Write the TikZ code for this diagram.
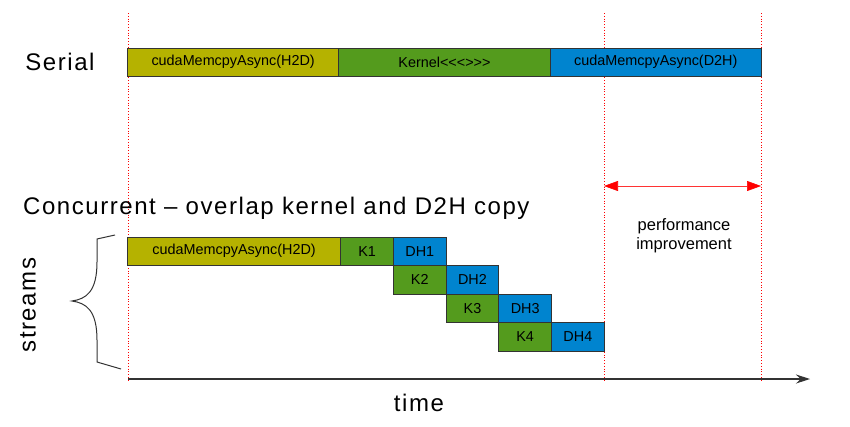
\documentclass[tikz,border=0pt]{standalone}
\usepackage{fontspec}
\newfontfamily\cellfont{Liberation Sans}
\newfontfamily\headfont{Liberation Sans}[LetterSpace=6.5]
\usetikzlibrary{arrows.meta,positioning}

\definecolor{copyin}{RGB}{181,178,0}
\definecolor{kernel}{RGB}{84,155,29}
\definecolor{copyout}{RGB}{0,132,207}
\definecolor{edge}{RGB}{51,51,51}

\tikzset{
	cell/.style={draw=edge, line width=1pt, inner sep=0pt, outer sep=0pt,
		minimum height=28.5pt, font=\cellfont\fontsize{14.4}{16}\selectfont},
	longcell/.style={cell, minimum width=211.3pt},
	shortcell/.style={cell, minimum width=52.7pt},
	heading/.style={inner sep=0pt, font=\headfont\fontsize{24}{28}\selectfont},
	marker/.style={red, dotted, line width=0.8pt},
}

\begin{document}
\begin{tikzpicture}[x=1pt,y=-1pt]

\path [use as bounding box] (0,0) rectangle (850,426);

% MARKERS
\foreach \x in {128,604,761}
	\draw [marker] (\x,13) -- (\x,380);

% SERIAL
\node [heading] (serial) at (60,62) {Serial};
\node [longcell, fill=copyin, anchor=north west] (sh2d) at (127.5,48) {cudaMemcpyAsync(H2D)};
\node [longcell, fill=kernel, right=0pt of sh2d] (skern) {Kernel<<<>>>};
\node [longcell, fill=copyout, right=0pt of skern] (sd2h) {cudaMemcpyAsync(D2H)};

% CONCURRENT
\node [heading, anchor=west] (concurrent) at (23,208) {Concurrent – overlap kernel and D2H copy};
\node [longcell, minimum width=213.2pt, fill=copyin, anchor=north west] (ch2d) at (127.5,237) {cudaMemcpyAsync(H2D)};
\node [shortcell, fill=kernel, right=0pt of ch2d] (k1) {K1};
\node [shortcell, fill=copyout, right=0pt of k1] (dh1) {DH1};
\foreach \i [count=\j from 1] in {2,3,4} {
	\node [shortcell, fill=kernel, below=0pt of dh\j] (k\i) {K\i};
	\node [shortcell, fill=copyout, right=0pt of k\i] (dh\i) {DH\i};
}

% STREAMS
\draw [line width=1pt, edge] (115,235) -- (97,239) -- (97,262)
	.. controls (97,292) and (86,299) .. (72,301)
	.. controls (86,303) and (97,310) .. (97,340) -- (97,362) -- (121,369);
\node [heading, rotate=90] (streams) at (28,305) {streams};

% TIME
\coordinate (t0) at (128,379);
\coordinate (t1) at (810,379);
\draw [line width=1.2pt, edge, -{Stealth[length=14pt,width=9pt]}] (t0) -- (t1);
\node [heading] (time) at (419,403) {time};

% GAIN
\coordinate (g0) at (604,186);
\coordinate (g1) at (761,186);
\draw [red!80, line width=0.6pt, {Triangle[length=14pt,width=10pt,red]}-{Triangle[length=14pt,width=10pt,red]}] (g0) -- (g1);
\node [align=center, font=\cellfont\fontsize{16.5}{19}\selectfont] (gain) at (684,236) {performance\\improvement};

\end{tikzpicture}
\end{document}
